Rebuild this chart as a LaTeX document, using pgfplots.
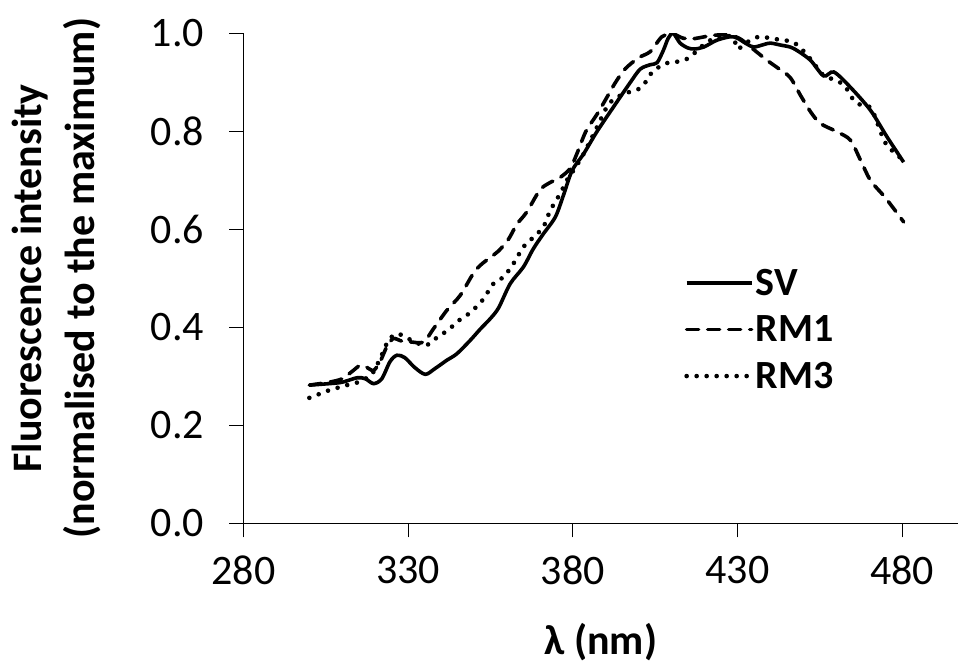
\documentclass[border=0pt]{standalone}
\usepackage{pgfplots}
\pgfplotsset{compat=1.18}
\usepackage{fontspec}
\setmainfont{Carlito}
\usetikzlibrary{calc}
\begin{document}
\begin{tikzpicture}
\begin{axis}[
  scale only axis, width=714.5bp, height=490bp,
  xmin=280, xmax=497, ymin=0, ymax=1,
  axis x line*=bottom, axis y line*=left,
  axis line style={line width=1.2bp, black},
  xtick={280,330,380,430,480}, ytick={0,0.2,0.4,0.6,0.8,1.0},
  minor tick num=0,
  tick align=outside, major tick length=14bp,
  every tick/.style={black, line width=1bp},
  /pgf/number format/assume math mode=true,
  yticklabel style={/pgf/number format/fixed, /pgf/number format/fixed zerofill, /pgf/number format/precision=1, xshift=-22bp},
  xticklabel style={/pgf/number format/1000 sep={}, yshift=-15bp},
  ticklabel style={font=\fontsize{42bp}{50bp}\selectfont},
  xlabel={\textbf{λ (nm)}},
  ylabel={Fluorescence intensity\\(normalised to the maximum)},
  xlabel style={at={(axis description cs:0.5,-0.2427)}, anchor=center, font=\bfseries\fontsize{42bp}{50bp}\selectfont},
  ylabel style={at={(axis description cs:-0.2624,0.5)}, anchor=center, rotate=0, align=center, font=\bfseries\fontsize{42bp}{53bp}\selectfont},
  legend cell align=left,
  legend style={draw=none, fill=none, inner sep=0pt, outer sep=0pt,
    font=\bfseries\fontsize{40bp}{44bp}\selectfont,
    at={(axis description cs:0.617,0.523)}, anchor=north west, row sep=15bp},
  legend image code/.code={\draw[#1] (0bp,0bp) -- (65bp,0bp);},
  every axis plot/.append style={line width=3.6bp, black, smooth, tension=0.5},
]
\addplot[solid] coordinates {
(300,0.282) (306,0.285) (310,0.288) (314.5,0.297) (317,0.295) (319.5,0.285) (322,0.295) (324.5,0.33) (326.6,0.343) (329,0.338) (332,0.318) (335.2,0.304) (338,0.315) (341.8,0.333) (344.8,0.346) (348.8,0.373) (352,0.397) (355,0.418) (357.5,0.44) (361,0.489) (365,0.523) (368,0.56) (371,0.59) (374.7,0.625) (377.2,0.67) (379.8,0.72) (383.3,0.754) (387.4,0.80) (392.4,0.85) (397.5,0.90) (400.5,0.927) (403.6,0.936) (405.6,0.94) (407.5,0.965) (409,0.99) (410.5,1.0) (412.6,0.98) (415,0.97) (417,0.968) (419.8,0.972) (423.8,0.986) (427.9,0.993) (430,0.99) (432.9,0.978) (435,0.972) (438,0.977) (440,0.980) (443.1,0.976) (446,0.972) (448.1,0.965) (452.2,0.945) (456.2,0.913) (459.3,0.921) (464.3,0.890) (470.4,0.843) (475.5,0.788) (480.5,0.737)
};
\addlegendentry{SV}
\addplot[line cap=round, dash pattern=on 12bp off 9bp] coordinates {
(300,0.282) (306,0.288) (310,0.295) (313,0.31) (315.4,0.322) (317.5,0.318) (319.5,0.312) (321.5,0.33) (323.5,0.36) (325.5,0.377) (328,0.372) (331,0.37) (334.7,0.37) (337.7,0.397) (341.8,0.435) (345.8,0.465) (349.8,0.51) (352,0.527) (355,0.543) (357.5,0.556) (360.5,0.58) (363,0.61) (366,0.635) (370,0.68) (373,0.695) (376,0.705) (379.2,0.724) (381.3,0.755) (384,0.80) (387.4,0.835) (390,0.865) (393,0.9) (396,0.928) (400,0.95) (403.6,0.963) (407.1,0.993) (410.6,0.998) (413.5,0.99) (416.7,0.989) (422.8,0.996) (427.9,0.996) (431,0.988) (434,0.972) (439,0.945) (442.1,0.93) (446,0.91) (449.2,0.873) (452.2,0.84) (455.2,0.816) (460.3,0.799) (464.3,0.782) (467.4,0.741) (470.4,0.70) (474.5,0.668) (477.5,0.642) (480.5,0.615)
};
\addlegendentry{RM1}
\addplot[line cap=round, line width=4.6bp, dash pattern=on 0bp off 10bp] coordinates {
(300,0.256) (302.7,0.263) (305.8,0.271) (308.8,0.277) (311.4,0.282) (314.4,0.287) (317,0.295) (319,0.304) (321.5,0.336) (324,0.373) (326.6,0.387) (329.1,0.380) (332.1,0.37) (334.7,0.363) (336.7,0.367) (338.7,0.379) (341.2,0.39) (343.8,0.404) (345.8,0.416) (348.5,0.428) (350.9,0.443) (353,0.459) (355.9,0.489) (359,0.503) (362,0.530) (365,0.564) (368.1,0.584) (371.1,0.605) (373.2,0.639) (376.2,0.673) (378.2,0.70) (380.2,0.72) (383.3,0.754) (387.4,0.809) (390.4,0.850) (393,0.868) (397.5,0.881) (400.5,0.888) (402.6,0.905) (404.1,0.921) (408,0.938) (411.7,0.942) (414.2,0.946) (416.7,0.958) (420,0.978) (423.8,0.993) (426,0.996) (428.9,0.99) (430,0.968) (433,0.982) (436.5,0.993) (440,0.99) (443.6,0.986) (446.6,0.983) (449.2,0.97) (452.5,0.945) (456,0.915) (459.5,0.905) (462.5,0.894) (464.3,0.873) (465.9,0.860) (468,0.852) (470.7,0.846) (473.9,0.792) (475.5,0.77) (477.5,0.758) (480.3,0.741)
};
\addlegendentry{RM3}
\end{axis}
\pgfresetboundingbox
\useasboundingbox ($(current axis.south west)+(-243.5bp,-143bp)$) rectangle ($(current axis.north east)+(0bp,33.3bp)$);
\end{tikzpicture}
\end{document}
